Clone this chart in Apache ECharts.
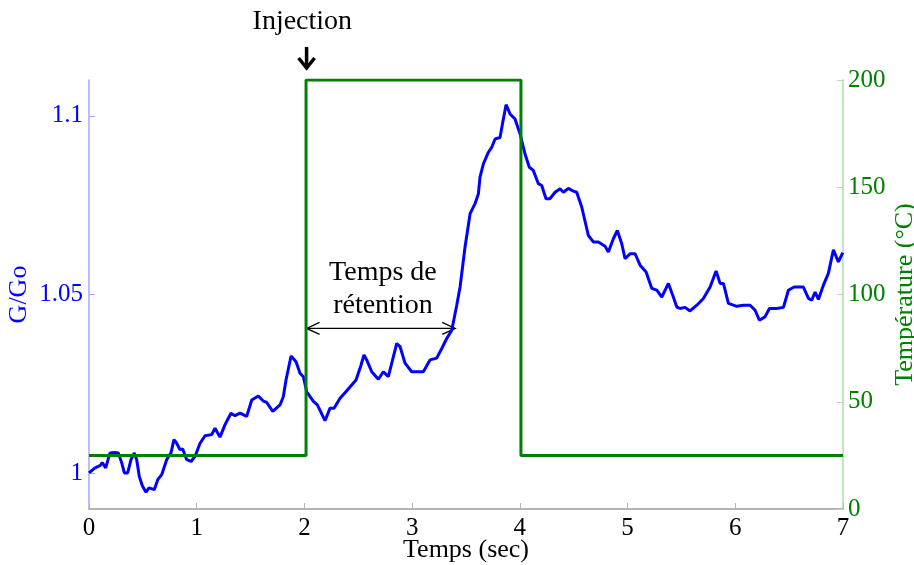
<!DOCTYPE html>
<html>
<head>
<meta charset="utf-8">
<script src="https://cdn.jsdelivr.net/npm/echarts@6/dist/echarts.min.js"></script>
<style>
  html, body { margin: 0; padding: 0; background: #fff; }
  #chart { width: 914px; height: 565px; }
</style>
</head>
<body>
<div id="chart"></div>
<script>
// G/Go mesuré (axe gauche)
var timeSec = [0.000, 0.056, 0.102, 0.123, 0.155, 0.195, 0.235, 0.272, 0.304, 0.328, 0.359, 0.390, 0.421, 0.443, 0.467, 0.495, 0.529, 0.557, 0.606, 0.638,
    0.675, 0.721, 0.761, 0.789, 0.814, 0.845, 0.870, 0.907, 0.947, 0.984, 1.031, 1.077, 1.139, 1.170, 1.216, 1.263, 1.318, 1.356, 1.402, 1.464,
    1.511, 1.572, 1.618, 1.650, 1.706, 1.773, 1.804, 1.829, 1.876, 1.922, 1.959, 1.990, 2.021, 2.083, 2.120, 2.191, 2.238, 2.275, 2.331, 2.393,
    2.479, 2.523, 2.553, 2.578, 2.625, 2.686, 2.733, 2.779, 2.857, 2.888, 2.934, 2.996, 3.104, 3.166, 3.228, 3.275, 3.321, 3.368, 3.414, 3.445,
    3.491, 3.538, 3.584, 3.615, 3.630, 3.661, 3.708, 3.739, 3.770, 3.816, 3.841, 3.872, 3.909, 3.955, 4.002, 4.048, 4.088, 4.125, 4.172, 4.203,
    4.243, 4.280, 4.327, 4.373, 4.404, 4.450, 4.497, 4.528, 4.575, 4.636, 4.682, 4.729, 4.791, 4.822, 4.868, 4.905, 4.946, 4.977, 5.023, 5.070,
    5.116, 5.172, 5.225, 5.271, 5.318, 5.379, 5.425, 5.457, 5.487, 5.534, 5.580, 5.643, 5.704, 5.766, 5.822, 5.859, 5.890, 5.936, 6.014, 6.075,
    6.138, 6.184, 6.224, 6.277, 6.317, 6.385, 6.447, 6.493, 6.546, 6.632, 6.679, 6.710, 6.741, 6.772, 6.818, 6.864, 6.911, 6.957, 6.998];
var gRatio = [1.0001, 1.0015, 1.0021, 1.0030, 1.0015, 1.0057, 1.0058, 1.0057, 1.0029, 1.0001, 1.0001, 1.0038, 1.0057, 1.0038, 0.9991, 0.9965, 0.9947, 0.9959, 0.9954, 0.9982,
    0.9996, 1.0038, 1.0057, 1.0094, 1.0084, 1.0066, 1.0068, 1.0038, 1.0033, 1.0047, 1.0084, 1.0105, 1.0108, 1.0126, 1.0101, 1.0136, 1.0168, 1.0161, 1.0168, 1.0159,
    1.0205, 1.0216, 1.0202, 1.0198, 1.0173, 1.0191, 1.0214, 1.0261, 1.0328, 1.0312, 1.0280, 1.0270, 1.0228, 1.0201, 1.0191, 1.0147, 1.0182, 1.0182, 1.0210, 1.0231,
    1.0261, 1.0300, 1.0331, 1.0317, 1.0284, 1.0263, 1.0284, 1.0270, 1.0363, 1.0354, 1.0308, 1.0284, 1.0284, 1.0317, 1.0322, 1.0349, 1.0377, 1.0400, 1.0470, 1.0521,
    1.0633, 1.0726, 1.0754, 1.0782, 1.0828, 1.0865, 1.0898, 1.0912, 1.0935, 1.0939, 1.0981, 1.1031, 1.1005, 1.0991, 1.0949, 1.0893, 1.0856, 1.0847, 1.0810, 1.0805,
    1.0768, 1.0768, 1.0786, 1.0796, 1.0786, 1.0797, 1.0789, 1.0786, 1.0744, 1.0665, 1.0647, 1.0647, 1.0635, 1.0619, 1.0656, 1.0679, 1.0642, 1.0600, 1.0614, 1.0614,
    1.0582, 1.0563, 1.0517, 1.0512, 1.0493, 1.0531, 1.0493, 1.0465, 1.0461, 1.0464, 1.0454, 1.0470, 1.0489, 1.0521, 1.0566, 1.0531, 1.0531, 1.0475, 1.0467, 1.0470,
    1.0470, 1.0456, 1.0428, 1.0438, 1.0461, 1.0461, 1.0464, 1.0512, 1.0521, 1.0521, 1.0489, 1.0484, 1.0507, 1.0486, 1.0526, 1.0559, 1.0625, 1.0591, 1.0617];

// Température (axe droit)
var tempTime = [0, 2.015, 2.015, 4.01, 4.01, 7];
var tempC = [25, 25, 200, 200, 25, 25];

var leftTicks = [1, 1.05, 1.1];
var injectionTime = 2.02;
var retentionEnd = 3.40;
var retentionLevel = 1.0405;

var font = 'Liberation Serif, Times New Roman, serif';

function zip(xs, ys) {
    var out = [];
    for (var i = 0; i < xs.length; i++) out.push([xs[i], ys[i]]);
    return out;
}

var chart = echarts.init(document.getElementById('chart'));
var option = {
    animation: false,
    grid: {left: 89, right: 71, top: 80, bottom: 56, containLabel: false, outerBoundsMode: 'none'},
    xAxis: {
        type: 'value',
        min: 0,
        max: 7,
        interval: 1,
        name: 'Temps (sec)',
        nameLocation: 'middle',
        nameGap: 28,
        nameMoveOverlap: false,
        nameTextStyle: {color: '#000', fontSize: 26, fontFamily: font},
        axisLine: {lineStyle: {color: '#b4b4b4', width: 2}},
        axisTick: {inside: true, length: 6, lineStyle: {color: '#b4b4b4'}},
        axisLabel: {color: '#000', fontSize: 25, fontFamily: font, margin: 7},
        splitLine: {show: false}
    },
    yAxis: [
        {
            type: 'value',
            position: 'left',
            min: 0.99,
            max: 1.11,
            name: 'G/Go',
            nameLocation: 'middle',
            nameGap: 57,
            nameMoveOverlap: false,
            nameTextStyle: {color: '#0000ff', fontSize: 26, fontFamily: font},
            axisLine: {show: true, lineStyle: {color: '#a6a6ff', width: 1.5}},
            axisTick: {show: true, inside: true, length: 6, customValues: leftTicks, lineStyle: {color: '#a6a6ff'}},
            axisLabel: {color: '#0000ff', fontSize: 25, fontFamily: font, margin: 6, customValues: leftTicks},
            splitLine: {show: false}
        },
        {
            type: 'value',
            position: 'right',
            min: 0,
            max: 200,
            interval: 50,
            name: 'Température (°C)',
            nameLocation: 'middle',
            nameGap: 49,
            nameMoveOverlap: false,
            nameTextStyle: {color: '#008000', fontSize: 26, fontFamily: font},
            axisLine: {show: true, lineStyle: {color: '#b0dcb0', width: 1.5}},
            axisTick: {show: true, inside: true, length: 6, lineStyle: {color: '#b0dcb0'}},
            axisLabel: {color: '#008000', fontSize: 25, fontFamily: font, margin: 5},
            splitLine: {show: false}
        }
    ],
    series: [
        {
            name: 'G/Go',
            type: 'line',
            yAxisIndex: 0,
            showSymbol: false,
            data: zip(timeSec, gRatio),
            lineStyle: {color: '#0000ff', width: 3},
            itemStyle: {color: '#0000ff'}
        },
        {
            name: 'Température',
            type: 'line',
            yAxisIndex: 1,
            showSymbol: false,
            data: zip(tempTime, tempC),
            lineStyle: {color: '#008000', width: 3},
            itemStyle: {color: '#008000'}
        }
    ]
};
chart.setOption(option);

// annotations : injection + temps de rétention
var pInj = chart.convertToPixel({xAxisIndex: 0, yAxisIndex: 0}, [injectionTime, retentionLevel]);
var pEnd = chart.convertToPixel({xAxisIndex: 0, yAxisIndex: 0}, [retentionEnd, retentionLevel]);
var xTop = chart.convertToPixel({xAxisIndex: 0}, injectionTime);
var ah = 13, aw = 6;

chart.setOption({
    graphic: [
        {type: 'text', left: xTop - 54, top: 8, style: {text: 'Injection', font: '28px ' + font, fill: '#000'}},
        {type: 'line', shape: {x1: xTop, y1: 47, x2: xTop, y2: 67}, style: {stroke: '#000', lineWidth: 3.5}},
        {type: 'polyline', shape: {points: [[xTop - 8, 58], [xTop, 68], [xTop + 8, 58]]}, style: {stroke: '#000', lineWidth: 3.5, fill: null}},
        {type: 'text', x: (pInj[0] + pEnd[0]) / 2 + 2, y: 289, style: {text: 'Temps de\nrétention', font: '28px ' + font, fill: '#000', align: 'center', verticalAlign: 'middle', lineHeight: 33}},
        {type: 'line', shape: {x1: pInj[0], y1: pInj[1], x2: pEnd[0], y2: pEnd[1]}, style: {stroke: '#000', lineWidth: 1.3}},
        {type: 'polyline', shape: {points: [[pInj[0] + ah, pInj[1] - aw], [pInj[0], pInj[1]], [pInj[0] + ah, pInj[1] + aw]]}, style: {stroke: '#000', lineWidth: 1.3, fill: null}},
        {type: 'polyline', shape: {points: [[pEnd[0] - ah, pEnd[1] - aw], [pEnd[0], pEnd[1]], [pEnd[0] - ah, pEnd[1] + aw]]}, style: {stroke: '#000', lineWidth: 1.3, fill: null}}
    ]
});
</script>
</body>
</html>
